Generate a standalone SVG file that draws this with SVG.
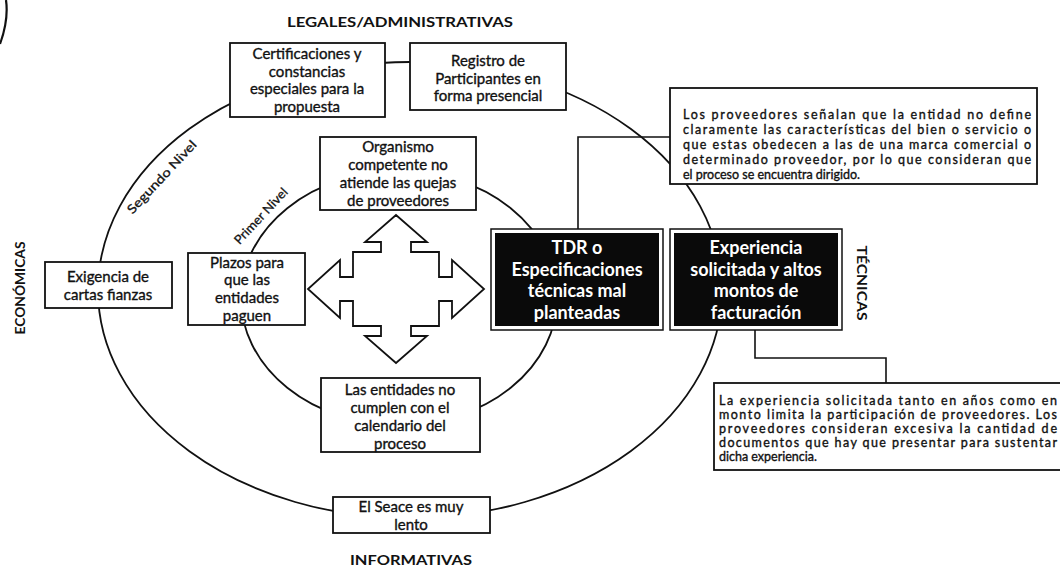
<svg xmlns="http://www.w3.org/2000/svg" width="1060" height="567" viewBox="0 0 1060 567">
<style>
.ring{fill:none;stroke:#111;stroke-width:1.8}
.conn{fill:none;stroke:#111;stroke-width:1.6}
.box{fill:#fff;stroke:#111;stroke-width:1.8}
.dark{fill:#fff;stroke:#111;stroke-width:1.5}
.dk{fill:#0a0a0a}
.t{font-family:Lato,"Liberation Sans",sans-serif;font-size:15px;fill:#111;stroke:#111;stroke-width:0.35;text-anchor:middle}
.w{font-family:Lato,"Liberation Sans",sans-serif;font-size:18px;font-weight:700;fill:#fff;text-anchor:middle}
.c{font-family:Lato,"Liberation Sans",sans-serif;font-size:12.5px;fill:#111;stroke:#111;stroke-width:0.35}
.h{font-family:Lato,"Liberation Sans",sans-serif;font-size:14px;font-weight:700;fill:#111;text-anchor:middle}
.lv{font-family:Lato,"Liberation Sans",sans-serif;font-size:12.5px;fill:#111;stroke:#111;stroke-width:0.3;text-anchor:middle}
</style>
<rect width="1060" height="567" fill="#fff"/>
<path d="M6,0 C8,14 5,30 0,44" fill="none" stroke="#111" stroke-width="2.2"/>

<g id="rings">
<ellipse class="ring" cx="410" cy="290" rx="312" ry="228"/>
<ellipse class="ring" cx="399" cy="298" rx="158" ry="127"/>
</g>

<g id="connectors">
<polyline class="conn" points="670,137 578,137 578,229"/>
<polyline class="conn" points="755,330 755,358 886,358 886,383"/>
</g>

<g id="labels">
<text class="h" x="400" y="27" textLength="226" lengthAdjust="spacingAndGlyphs">LEGALES/ADMINISTRATIVAS</text>
<text class="h" x="411" y="565" textLength="122" lengthAdjust="spacingAndGlyphs">INFORMATIVAS</text>
<text class="h" transform="translate(25,288) rotate(-90)" textLength="93" lengthAdjust="spacingAndGlyphs">ECONÓMICAS</text>
<text class="h" transform="translate(857,283) rotate(90)" textLength="75" lengthAdjust="spacingAndGlyphs">TÉCNICAS</text>
<text class="lv" transform="translate(165,180) rotate(-47)" textLength="95" lengthAdjust="spacingAndGlyphs">Segundo Nivel</text>
<text class="lv" transform="translate(264,219) rotate(-47)" textLength="72" lengthAdjust="spacingAndGlyphs">Primer Nivel</text>
</g>

<g id="cross">
<path d="M396,215 L427,242 L411,242 L411,252 L439,252 L439,277 L452,277 L452,260 L484,289 L452,318 L452,301 L439,301 L439,326 L411,326 L411,336 L427,336 L396,363 L365,336 L381,336 L381,326 L353,326 L353,301 L340,301 L340,318 L308,289 L340,260 L340,277 L353,277 L353,252 L381,252 L381,242 L365,242 Z" fill="#fff" stroke="#111" stroke-width="1.8" stroke-linejoin="miter"/>
</g>

<g id="certificaciones">
<rect class="box" x="230" y="43" width="155" height="74"/>
<text class="t" x="307" y="59">Certificaciones y</text>
<text class="t" x="307" y="76.5">constancias</text>
<text class="t" x="307" y="94">especiales para la</text>
<text class="t" x="307" y="111.5">propuesta</text>
</g>

<g id="registro">
<rect class="box" x="410" y="43" width="156" height="67"/>
<text class="t" x="488" y="66">Registro de</text>
<text class="t" x="488" y="83.5">Participantes en</text>
<text class="t" x="488" y="101">forma presencial</text>
</g>

<g id="organismo">
<rect class="box" x="320" y="137" width="156" height="73"/>
<text class="t" x="398" y="152">Organismo</text>
<text class="t" x="398" y="170">competente no</text>
<text class="t" x="398" y="188">atiende las quejas</text>
<text class="t" x="398" y="206">de proveedores</text>
</g>

<g id="exigencia">
<rect class="box" x="45" y="262" width="127" height="46"/>
<text class="t" x="108" y="282">Exigencia de</text>
<text class="t" x="108" y="300">cartas fianzas</text>
</g>

<g id="plazos">
<rect class="box" x="188" y="253" width="117" height="72"/>
<text class="t" x="247" y="268">Plazos para</text>
<text class="t" x="247" y="285">que las</text>
<text class="t" x="247" y="303">entidades</text>
<text class="t" x="247" y="321">paguen</text>
</g>

<g id="entidades">
<rect class="box" x="321" y="378" width="159" height="74"/>
<text class="t" x="400" y="395">Las entidades no</text>
<text class="t" x="400" y="413">cumplen con el</text>
<text class="t" x="400" y="431">calendario del</text>
<text class="t" x="400" y="449">proceso</text>
</g>

<g id="seace">
<rect class="box" x="333" y="497" width="157" height="36"/>
<text class="t" x="411" y="512">El Seace es muy</text>
<text class="t" x="411" y="530">lento</text>
</g>

<g id="tdr">
<rect class="dark" x="491" y="229" width="172" height="101"/>
<rect class="dk" x="495" y="233" width="164" height="93"/>
<text class="w" x="577" y="254">TDR o</text>
<text class="w" x="577" y="275.7">Especificaciones</text>
<text class="w" x="577" y="297.4">técnicas mal</text>
<text class="w" x="577" y="319.1">planteadas</text>
</g>

<g id="experiencia">
<rect class="dark" x="670" y="229" width="172" height="101"/>
<rect class="dk" x="674" y="233" width="164" height="93"/>
<text class="w" x="756" y="254">Experiencia</text>
<text class="w" x="756" y="275.7">solicitada y altos</text>
<text class="w" x="756" y="297.4">montos de</text>
<text class="w" x="756" y="319.1">facturación</text>
</g>

<g id="callout-tdr">
<rect class="box" x="670" y="88" width="367" height="96"/>
<text class="c" x="683" y="119" textLength="348" lengthAdjust="spacing">Los proveedores señalan que la entidad no define</text>
<text class="c" x="683" y="134" textLength="348" lengthAdjust="spacing">claramente las características del bien o servicio o</text>
<text class="c" x="683" y="149" textLength="348" lengthAdjust="spacing">que estas obedecen a las de una marca comercial o</text>
<text class="c" x="683" y="164" textLength="348" lengthAdjust="spacing">determinado proveedor, por lo que consideran que</text>
<text class="c" x="683" y="179">el proceso se encuentra dirigido.</text>
</g>

<g id="callout-experiencia">
<rect class="box" x="714" y="383" width="360" height="87"/>
<text class="c" x="719" y="405" textLength="338" lengthAdjust="spacing">La experiencia solicitada tanto en años como en</text>
<text class="c" x="719" y="419" textLength="338" lengthAdjust="spacing">monto limita la participación de proveedores. Los</text>
<text class="c" x="719" y="433" textLength="338" lengthAdjust="spacing">proveedores consideran excesiva la cantidad de</text>
<text class="c" x="719" y="447" textLength="338" lengthAdjust="spacing">documentos que hay que presentar para sustentar</text>
<text class="c" x="719" y="461">dicha experiencia.</text>
</g>
</svg>
